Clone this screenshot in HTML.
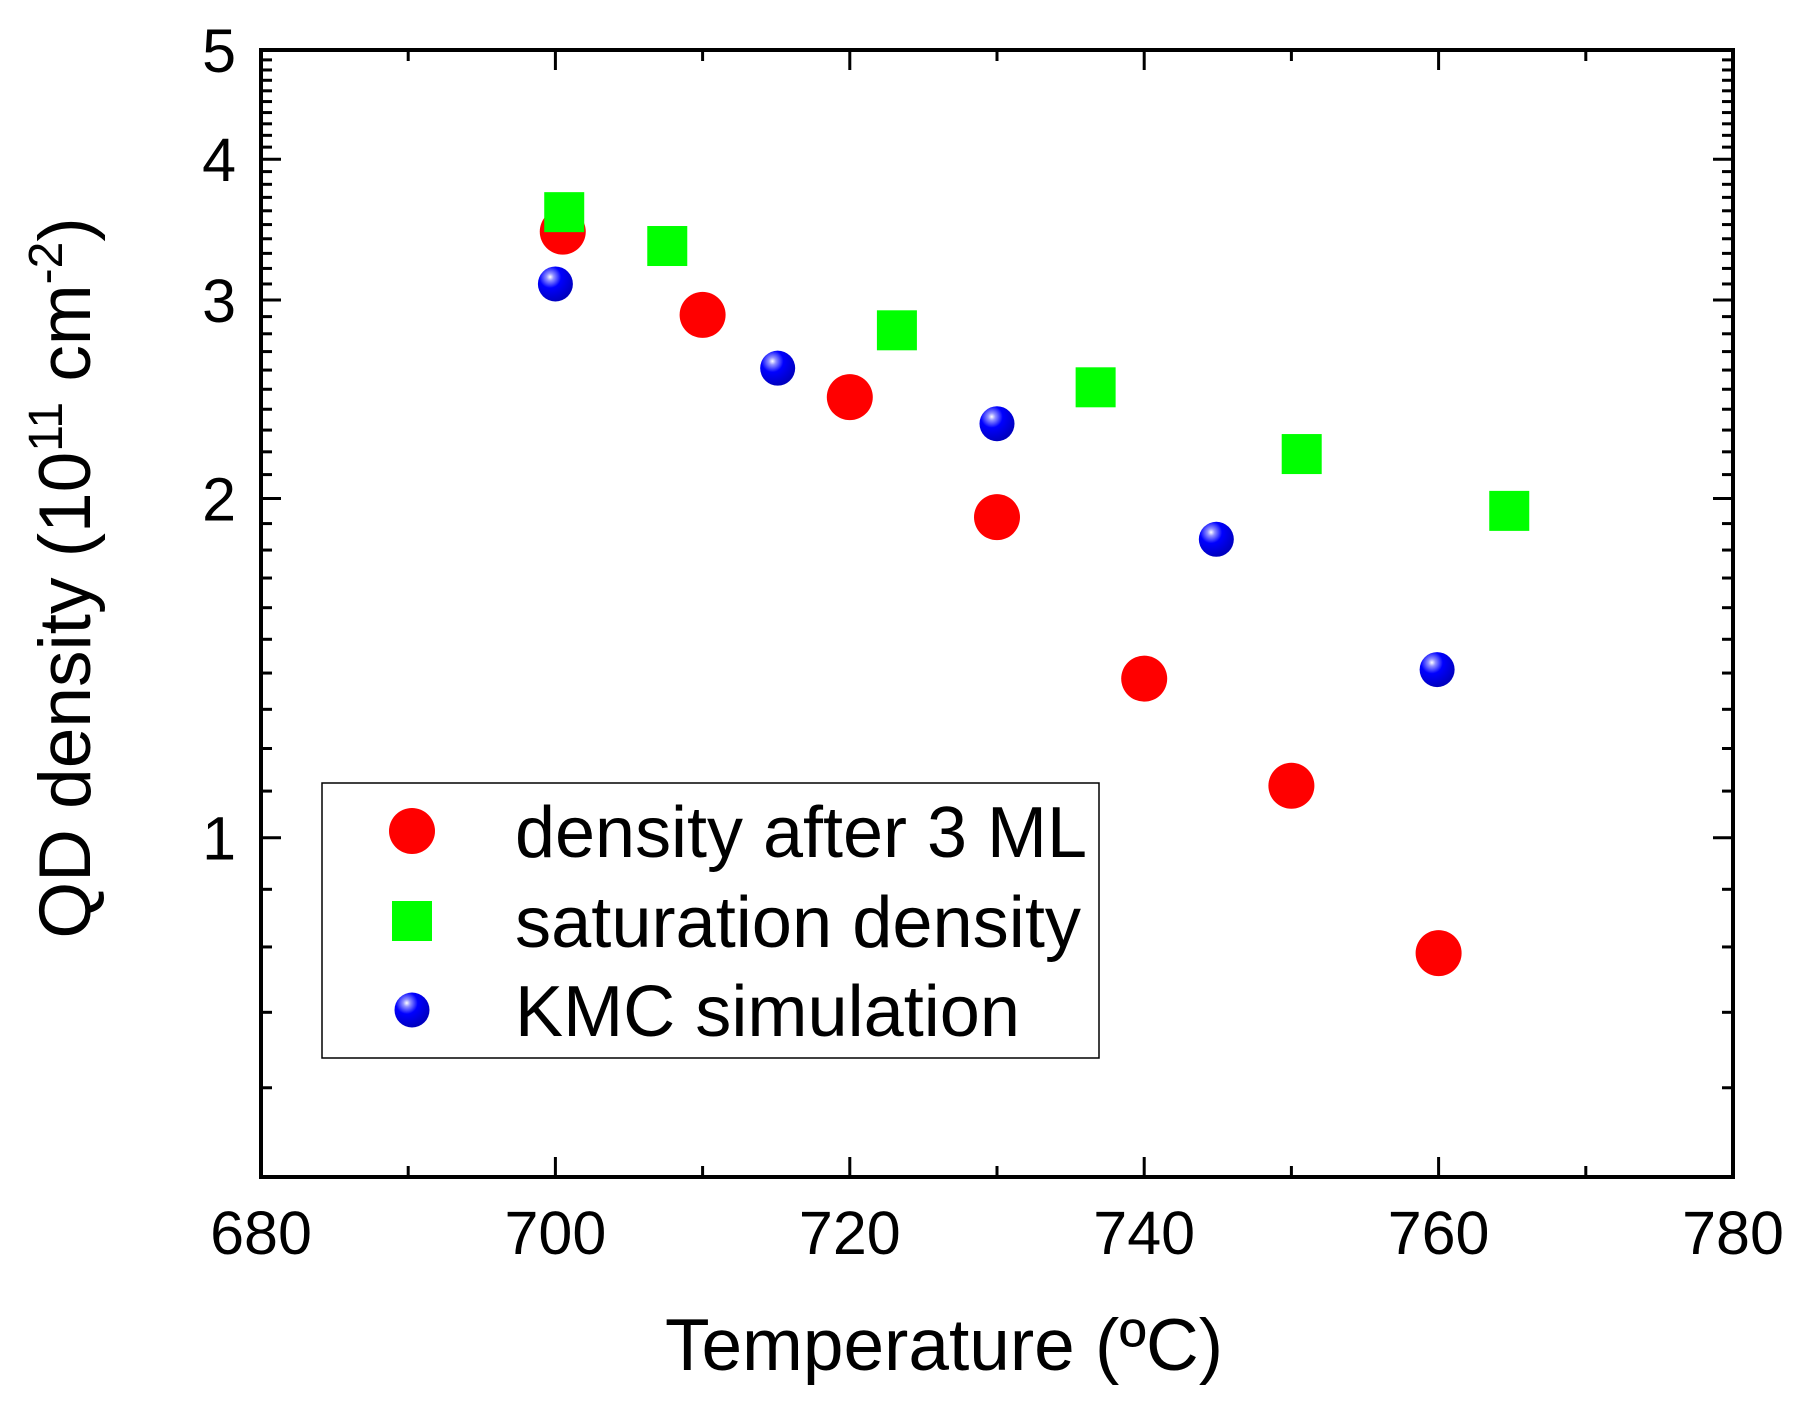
<!DOCTYPE html>
<html><head><meta charset="utf-8"><style>
html,body{margin:0;padding:0;background:#fff;}
svg{display:block;font-family:"Liberation Sans",Arial,sans-serif;}
</style></head><body>
<svg id="s" width="1806" height="1413" viewBox="0 0 1806 1413" xmlns="http://www.w3.org/2000/svg">
<defs>
<radialGradient id="bg" cx="0.35" cy="0.3" r="0.7">
<stop offset="0" stop-color="#ffffff"/><stop offset="0.15" stop-color="#9090ff"/><stop offset="0.45" stop-color="#0000ff"/><stop offset="1" stop-color="#0000c0"/>
</radialGradient>
</defs>
<g id="g"></g>
</svg>
<script>
var L=261,R=1733,T=50,B=1177;
function X(t){return L+(t-680)*(R-L)/100;}
function Y(v){return T+(Math.log10(5)-Math.log10(v))*(B-T);}
var h='';
for(var t=680;t<=780;t+=10){var x=X(t),len=(t%20==0)?20:11;
 if(t>680&&t<780){h+='<line x1="'+x+'" y1="'+B+'" x2="'+x+'" y2="'+(B-len)+'" stroke="#000" stroke-width="3"/>';
 h+='<line x1="'+x+'" y1="'+T+'" x2="'+x+'" y2="'+(T+len)+'" stroke="#000" stroke-width="3"/>';}
 if(t%20==0)h+='<text x="'+x+'" y="1254" font-size="61" text-anchor="middle">'+t+'</text>';}
var vs=[0.6,0.7,0.8,0.9];for(var v=1;v<=5.001;v+=0.1)vs.push(Math.round(v*10)/10);
vs.forEach(function(v){var y=Y(v),maj=Math.abs(v-Math.round(v))<1e-6,len=maj?20:11;
 if(v<4.999){h+='<line x1="'+L+'" y1="'+y+'" x2="'+(L+len)+'" y2="'+y+'" stroke="#000" stroke-width="3"/>';
 h+='<line x1="'+R+'" y1="'+y+'" x2="'+(R-len)+'" y2="'+y+'" stroke="#000" stroke-width="3"/>';}
 if(maj)h+='<text x="236" y="'+(y+22)+'" font-size="61" text-anchor="end">'+Math.round(v)+'</text>';});
h+='<rect x="'+L+'" y="'+T+'" width="'+(R-L)+'" height="'+(B-T)+'" fill="none" stroke="#000" stroke-width="4"/>';
var red=[[700.5,3.45],[710,2.91],[720,2.46],[730,1.925],[740,1.384],[750,1.112],[760,0.79]];
var gr=[[700.6,3.59],[707.6,3.35],[723.2,2.82],[736.7,2.51],[750.7,2.19],[764.8,1.95]];
var bl=[[700,3.1],[715.1,2.61],[730,2.33],[744.9,1.84],[759.9,1.41]];
function rc(x,y){return '<circle cx="'+x+'" cy="'+y+'" r="23" fill="#ff0000"/>';}
function sq(x,y){return '<rect x="'+(x-20)+'" y="'+(y-20)+'" width="40" height="40" fill="#00ff00"/>';}
function bc(x,y){return '<circle cx="'+x+'" cy="'+y+'" r="17.5" fill="url(#bg)"/>';}
red.forEach(function(p){h+=rc(X(p[0]),Y(p[1]));});
gr.forEach(function(p){h+=sq(X(p[0]),Y(p[1]));});
bl.forEach(function(p){h+=bc(X(p[0]),Y(p[1]));});
h+='<rect x="322" y="783" width="777" height="275" fill="#fff" stroke="#000" stroke-width="1.5"/>';
h+=rc(412,831)+sq(412,921)+bc(412,1010);
h+='<text x="515" y="857" font-size="72" textLength="572" lengthAdjust="spacingAndGlyphs">density after 3 ML</text>';
h+='<text x="515" y="947" font-size="72" textLength="566" lengthAdjust="spacingAndGlyphs">saturation density</text>';
h+='<text x="515" y="1036" font-size="72" textLength="505" lengthAdjust="spacingAndGlyphs">KMC simulation</text>';
h+='<text x="944" y="1370" font-size="73" text-anchor="middle">Temperature (ºC)</text>';
h+='<text transform="translate(90,578) rotate(-90)" font-size="73" text-anchor="middle">QD density (10<tspan dy="-28" font-size="48">11</tspan><tspan dy="28"> cm</tspan><tspan dy="-28" font-size="48">-2</tspan><tspan dy="28">)</tspan></text>';
document.getElementById('g').innerHTML=h;
</script>
</body></html>
